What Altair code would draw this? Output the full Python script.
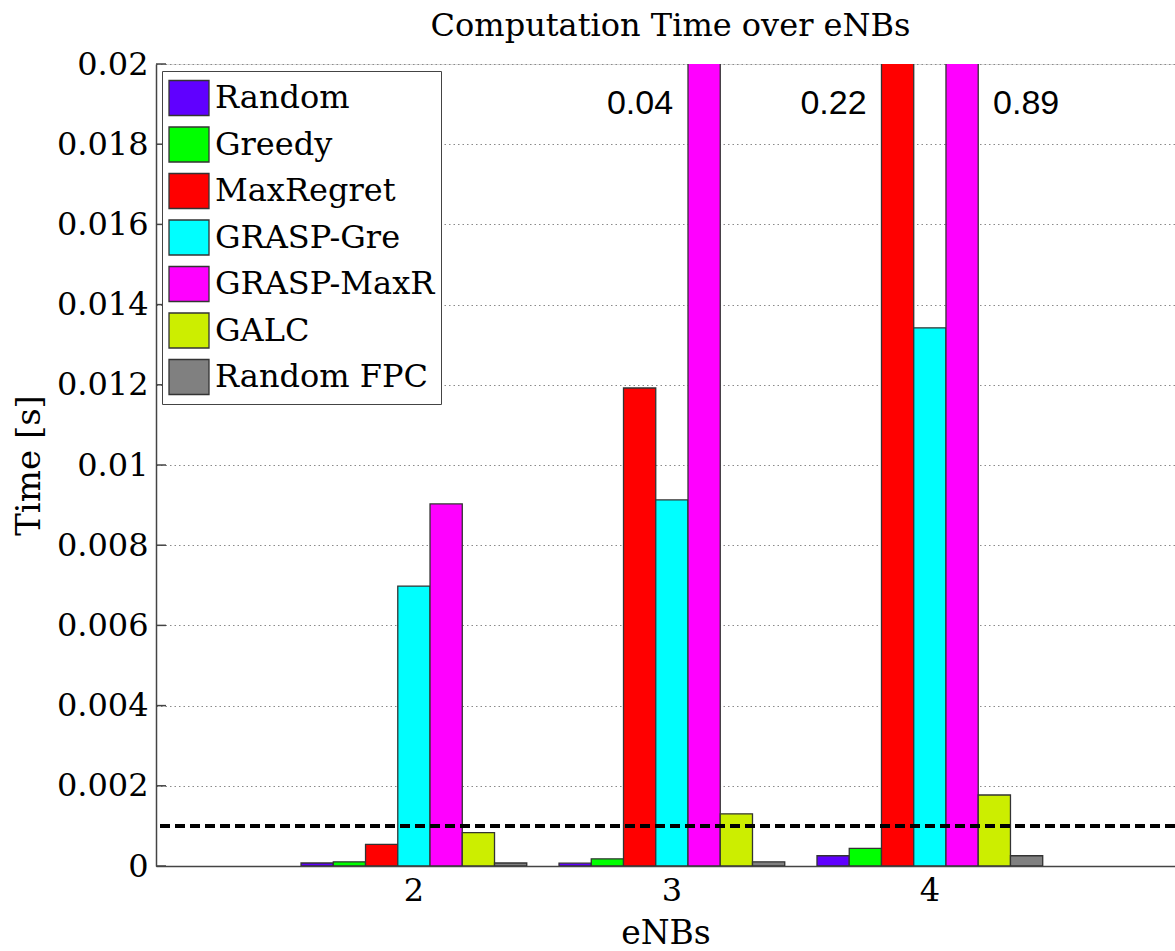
import altair as alt
import pandas as pd

# ---- data ----
categories = ["2", "3", "4"]
series = ["Random", "Greedy", "MaxRegret", "GRASP-Gre", "GRASP-MaxR", "GALC", "Random FPC"]
colors = ["#6000ff", "#00ff00", "#ff0000", "#00ffff", "#ff00ff", "#ccee00", "#808080"]
time_2 = [0.000075, 0.000105, 0.00054, 0.00698, 0.00903, 0.00083, 0.000075]
time_3 = [0.00007, 0.00018, 0.01192, 0.00913, 0.04, 0.0013, 0.000105]
time_4 = [0.000255, 0.00044, 0.22, 0.01342, 0.89, 0.00177, 0.000255]
y_ticks = [0, 0.002, 0.004, 0.006, 0.008, 0.01, 0.012, 0.014, 0.016, 0.018, 0.02]
threshold = 0.001
y_max = 0.02

rows = []
for cat, vals in zip(categories, [time_2, time_3, time_4]):
    for s, v in zip(series, vals):
        rows.append({"eNBs": cat, "series": s, "time": v})
df = pd.DataFrame(rows)
ticks_df = pd.DataFrame({"tick": y_ticks})

SERIF = "DejaVu Serif"
SANS = "Liberation Sans"
AX = "#444444"

x_enc = alt.X(
    "eNBs:N",
    sort=categories,
    scale=alt.Scale(domain=categories, paddingInner=0.125, paddingOuter=0.5375, align=0.523),
    axis=alt.Axis(
        title="eNBs", labelAngle=0, ticks=False, tickSize=0, labelPadding=9,
        domainColor=AX, domainWidth=1.5, labelFont=SERIF, labelFontSize=32,
        labelColor="black", titleFont=SERIF, titleFontSize=33, titleFontWeight="normal",
        titleColor="black", titlePadding=11, grid=False,
    ),
)
xo_enc = alt.XOffset("series:N", sort=series,
                     scale=alt.Scale(domain=series, paddingInner=0, paddingOuter=0))
y_scale = alt.Scale(domain=[0, y_max], nice=False, zero=True)

bars = alt.Chart(df).mark_bar(stroke="#333333", strokeWidth=1.3, clip=True).encode(
    x=x_enc,
    xOffset=xo_enc,
    y=alt.Y(
        "time:Q",
        scale=y_scale,
        axis=alt.Axis(
            values=y_ticks, format="~g", ticks=False, tickSize=0, labelPadding=8,
            grid=True, gridDash=[1.5, 3], gridColor="#8a8a8a", gridWidth=1,
            domainColor=AX, domainWidth=1.5, labelFont=SERIF, labelFontSize=32,
            labelColor="black", title="Time [s]", titleFont=SERIF, titleFontSize=34,
            titleFontWeight="normal", titleColor="black", titlePadding=10,
        ),
    ),
    color=alt.Color(
        "series:N",
        sort=series,
        scale=alt.Scale(domain=series, range=colors),
        legend=alt.Legend(
            title=None, orient="none", legendX=6, legendY=7,
            symbolType="M-1,-0.875H1V0.875H-1Z", symbolSize=1600,
            symbolStrokeColor="#333333", symbolStrokeWidth=1.3, symbolOpacity=1,
            labelFont=SERIF, labelFontSize=32, labelColor="black", labelOffset=5,
            rowPadding=4.5, padding=6, fillColor="white", strokeColor="#444444",
            labelLimit=400,
        ),
    ),
)

thresh = alt.Chart(pd.DataFrame({"t": [threshold]})).mark_rule(
    color="black", strokeWidth=4, strokeDash=[10, 5]
).encode(y=alt.Y("t:Q", scale=y_scale))

ticks = alt.Chart(ticks_df).mark_rule(color=AX, strokeWidth=1.5).encode(
    y=alt.Y("tick:Q", scale=y_scale), x=alt.value(0), x2=alt.value(10)
)

over = alt.Chart(df).transform_filter(alt.datum.time > y_max)
text_left = over.transform_filter(
    "datum.series == 'MaxRegret' || datum.eNBs == '3'"
).mark_text(font=SANS, fontSize=34, align="right", baseline="middle", dx=-31, color="black").encode(
    x=x_enc, xOffset=xo_enc, y=alt.datum(0.019), text=alt.Text("time:Q", format=".2f")
)
text_right = over.transform_filter(
    "!(datum.series == 'MaxRegret' || datum.eNBs == '3')"
).mark_text(font=SANS, fontSize=34, align="left", baseline="middle", dx=31, color="black").encode(
    x=x_enc, xOffset=xo_enc, y=alt.datum(0.019), text=alt.Text("time:Q", format=".2f")
)

chart = alt.layer(bars, thresh, ticks, text_left, text_right).properties(
    width=1019,
    height=802,
    title=alt.TitleParams(
        "Computation Time over eNBs", font=SERIF, fontSize=32, fontWeight="normal",
        color="black", anchor="middle", offset=5, dx=5,
    ),
    autosize=alt.AutoSizeParams(type="none"),
    padding={"left": 156, "top": 64, "right": 0, "bottom": 85},
).configure_view(stroke=None).configure(background="white")

chart.save("out.html", embed_options={"renderer": "svg", "actions": False})
